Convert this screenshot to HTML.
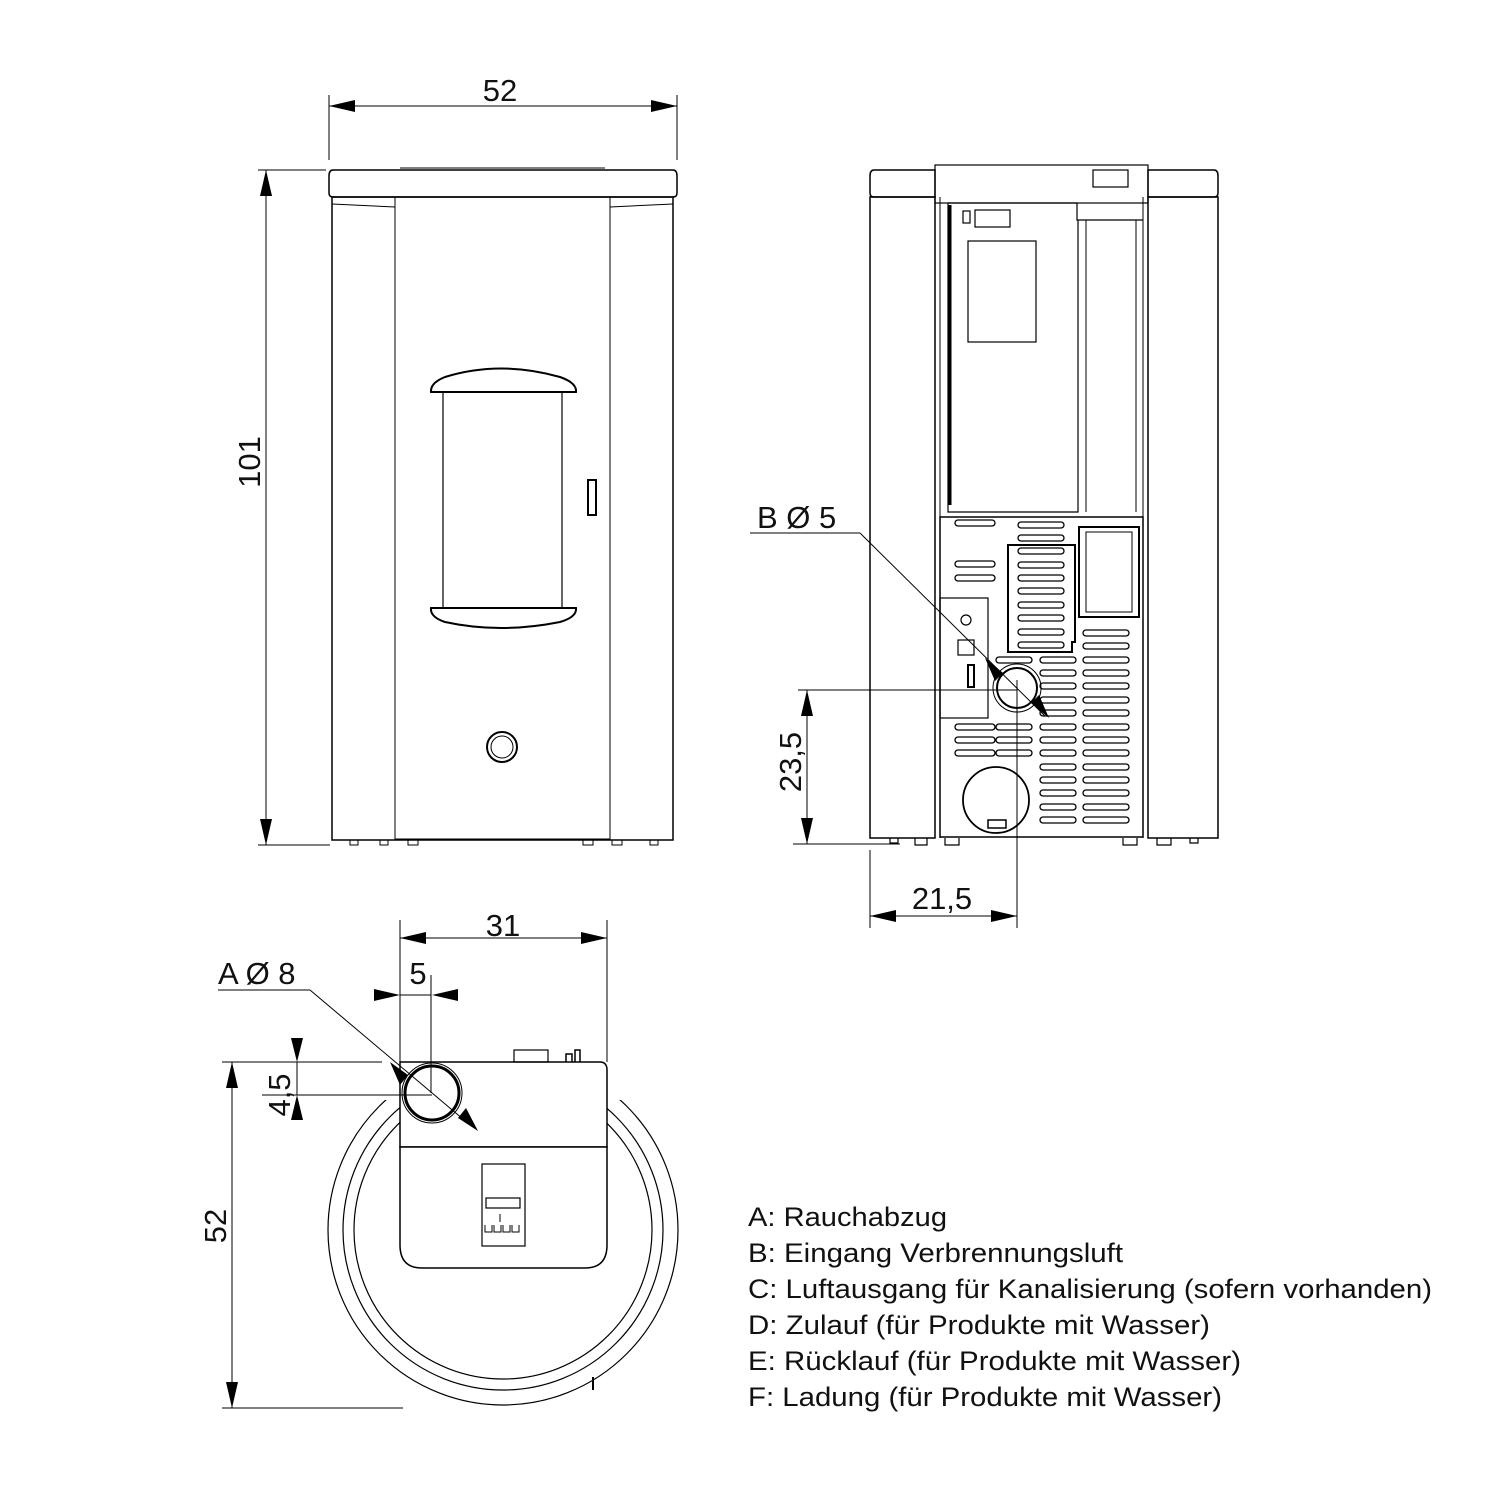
<!DOCTYPE html>
<html><head><meta charset="utf-8"><style>
html,body{margin:0;padding:0;background:#fff;}
svg{display:block}
text{font-family:"Liberation Sans",Arial,sans-serif;fill:#111}
</style></head><body>
<svg width="1500" height="1500" viewBox="0 0 1500 1500" xmlns="http://www.w3.org/2000/svg">
<defs>
<marker id="ae" markerWidth="26" markerHeight="12" refX="26" refY="6" orient="auto" markerUnits="userSpaceOnUse"><path d="M0,0 L26,6 L0,12 z" fill="#000"/></marker>
<marker id="as" markerWidth="26" markerHeight="12" refX="0" refY="6" orient="auto" markerUnits="userSpaceOnUse"><path d="M26,0 L0,6 L26,12 z" fill="#000"/></marker>
<clipPath id="cl"><rect x="300" y="1100" width="420" height="320"/></clipPath>
</defs>
<g fill="none" stroke="#000" stroke-width="1.5">
<path d="M333,170 H673 Q677,170 677,176 V193 Q677,197 673,197 H333 Q329,197 329,193 V176 Q329,170 333,170 z"/>
<line x1="400" y1="168" x2="605" y2="168" stroke-width="1"/>
<rect x="332" y="197" width="341" height="643"/>
<rect x="395" y="197" width="215" height="642" stroke-width="1"/>
<line x1="332" y1="204" x2="395" y2="207" stroke-width="1"/>
<line x1="610" y1="207" x2="673" y2="204" stroke-width="1"/>
<path d="M431,392 Q430,383 445,377 Q500,360 560,377 Q577,383 576,392 z" stroke-width="2"/>
<rect x="443" y="392" width="119" height="216" stroke-width="1.2"/>
<path d="M431,608 Q430,617 445,622 Q500,634 560,622 Q577,617 576,608 z" stroke-width="2"/>
<rect x="588" y="480" width="8" height="35" stroke-width="2"/>
<circle cx="502" cy="747" r="15" stroke-width="2"/>
<circle cx="502" cy="747" r="11" stroke-width="1"/>
<path d="M350,840v5h8v-5 M380,840v5h8v-5 M408,840v5h10v-5 M583,840v5h10v-5 M612,840v5h10v-5 M650,840v5h8v-5" stroke-width="1"/>
<line x1="329" y1="95" x2="329" y2="160" stroke-width="1"/>
<line x1="677" y1="95" x2="677" y2="160" stroke-width="1"/>
<line x1="329" y1="106" x2="677" y2="106" stroke-width="1" marker-start="url(#as)" marker-end="url(#ae)"/>
<line x1="258" y1="170" x2="326" y2="170" stroke-width="1"/>
<line x1="258" y1="845" x2="330" y2="845" stroke-width="1"/>
<line x1="266" y1="170" x2="266" y2="845" stroke-width="1" marker-start="url(#as)" marker-end="url(#ae)"/>

<path d="M874,170 H935 V197 H874 Q870,197 870,193 V176 Q870,170 874,170 z"/>
<path d="M1148,170 H1214 Q1218,170 1218,176 V193 Q1218,197 1214,197 H1148 z"/>
<rect x="935" y="165" width="213" height="38" stroke-width="1.2"/>
<rect x="1093" y="170" width="35" height="17" stroke-width="1.2"/>
<rect x="870" y="197" width="65" height="641"/>
<rect x="1148" y="197" width="70" height="641"/>
<line x1="940" y1="197" x2="940" y2="838" stroke-width="1"/>
<line x1="1143" y1="197" x2="1143" y2="838" stroke-width="1"/>
<path d="M948,203 H1077 V220 H1143" stroke-width="1.2"/>
<path d="M948,203 V512 H1078 V220" stroke-width="1.2"/>
<line x1="950" y1="205" x2="950" y2="505" stroke-width="3"/>
<line x1="1086" y1="220" x2="1086" y2="512" stroke-width="1"/>
<line x1="1136" y1="220" x2="1136" y2="512" stroke-width="1"/>
<rect x="968" y="241" width="68" height="101" stroke-width="1.2"/>
<rect x="975" y="210" width="35" height="17" stroke-width="1.2"/>
<rect x="963" y="211" width="7" height="12" stroke-width="1.2"/>
<rect x="940" y="517" width="203" height="320"/>
<rect x="1079" y="527" width="60" height="90" stroke-width="2"/>
<rect x="1086" y="532" width="46" height="80" stroke-width="1"/>
<path d="M1008,545 H1075 V642 H1072 V652 H1008 z" stroke-width="2"/>
<rect x="940" y="598" width="48" height="120" stroke-width="1.2"/>
<rect x="958" y="640" width="16" height="15" stroke-width="1.2"/>
<rect x="968" y="665" width="6" height="22" stroke-width="2"/>
<circle cx="966" cy="620" r="5" stroke-width="1.2"/>
<g stroke-width="1.3">
<rect x="955" y="520" width="40" height="6" rx="3"/>
<rect x="955" y="561" width="40" height="6" rx="3"/>
<rect x="955" y="575" width="40" height="6" rx="3"/>
<rect x="955" y="724" width="40" height="6" rx="3"/>
<rect x="955" y="737" width="40" height="6" rx="3"/>
<rect x="955" y="750" width="40" height="6" rx="3"/>
<rect x="996" y="724" width="36" height="6" rx="3"/>
<rect x="996" y="737" width="36" height="6" rx="3"/>
<rect x="996" y="750" width="36" height="6" rx="3"/>
<rect x="996" y="657" width="36" height="6" rx="3"/>
<rect x="1018" y="522" width="46" height="6" rx="3"/>
<rect x="1018" y="535" width="46" height="6" rx="3"/>
<rect x="1018" y="548" width="46" height="6" rx="3"/>
<rect x="1018" y="562" width="46" height="6" rx="3"/>
<rect x="1018" y="575" width="46" height="6" rx="3"/>
<rect x="1018" y="588" width="46" height="6" rx="3"/>
<rect x="1018" y="602" width="46" height="6" rx="3"/>
<rect x="1018" y="615" width="46" height="6" rx="3"/>
<rect x="1018" y="629" width="46" height="6" rx="3"/>
<rect x="1018" y="642" width="46" height="6" rx="3"/>
<rect x="1040" y="657" width="36" height="6" rx="3"/>
<rect x="1040" y="670" width="36" height="6" rx="3"/>
<rect x="1040" y="683" width="36" height="6" rx="3"/>
<rect x="1040" y="697" width="36" height="6" rx="3"/>
<rect x="1040" y="710" width="36" height="6" rx="3"/>
<rect x="1040" y="724" width="36" height="6" rx="3"/>
<rect x="1040" y="737" width="36" height="6" rx="3"/>
<rect x="1040" y="750" width="36" height="6" rx="3"/>
<rect x="1040" y="764" width="36" height="6" rx="3"/>
<rect x="1040" y="777" width="36" height="6" rx="3"/>
<rect x="1040" y="790" width="36" height="6" rx="3"/>
<rect x="1040" y="804" width="36" height="6" rx="3"/>
<rect x="1040" y="817" width="36" height="6" rx="3"/>
<rect x="1083" y="630" width="46" height="6" rx="3"/>
<rect x="1083" y="643" width="46" height="6" rx="3"/>
<rect x="1083" y="657" width="46" height="6" rx="3"/>
<rect x="1083" y="670" width="46" height="6" rx="3"/>
<rect x="1083" y="683" width="46" height="6" rx="3"/>
<rect x="1083" y="697" width="46" height="6" rx="3"/>
<rect x="1083" y="710" width="46" height="6" rx="3"/>
<rect x="1083" y="724" width="46" height="6" rx="3"/>
<rect x="1083" y="737" width="46" height="6" rx="3"/>
<rect x="1083" y="750" width="46" height="6" rx="3"/>
<rect x="1083" y="764" width="46" height="6" rx="3"/>
<rect x="1083" y="777" width="46" height="6" rx="3"/>
<rect x="1083" y="790" width="46" height="6" rx="3"/>
<rect x="1083" y="804" width="46" height="6" rx="3"/>
<rect x="1083" y="817" width="46" height="6" rx="3"/>
</g>
<circle cx="1017" cy="688" r="20" stroke-width="2"/>
<circle cx="1017" cy="688" r="24" stroke-width="1"/>
<circle cx="996" cy="800" r="33" stroke-width="1.8"/>
<rect x="988" y="820" width="18" height="8" stroke-width="1.5"/>
<path d="M890,838v5h8v-5 M915,838v7h12v-7 M945,838v7h14v-7 M1123,838v7h14v-7 M1157,838v7h14v-7 M1190,838v5h8v-5" stroke-width="1.2"/>
<line x1="750" y1="533" x2="860" y2="533" stroke-width="1"/>
<line x1="860" y1="533" x2="1045" y2="716" stroke-width="1"/>
<path d="M985,658 L1003,673 L995,681 z M1049,718 L1031,703 L1039,695 z" fill="#000" stroke="none"/>
<line x1="798" y1="690" x2="1017" y2="690" stroke-width="1"/>
<line x1="793" y1="844" x2="900" y2="844" stroke-width="1"/>
<line x1="807" y1="690" x2="807" y2="844" stroke-width="1" marker-start="url(#as)" marker-end="url(#ae)"/>
<line x1="870" y1="850" x2="870" y2="928" stroke-width="1"/>
<line x1="1017" y1="680" x2="1017" y2="928" stroke-width="1"/>
<line x1="870" y1="916" x2="1017" y2="916" stroke-width="1" marker-start="url(#as)" marker-end="url(#ae)"/>

<g clip-path="url(#cl)">
<circle cx="503" cy="1230" r="175" stroke-width="1.2"/>
<circle cx="503" cy="1230" r="160" stroke-width="1.2"/>
<circle cx="503" cy="1230" r="149" stroke-width="1.2"/>
</g>
<path d="M400,1062 H600 Q607,1062 607,1070 V1147 H400 z" fill="#fff" stroke-width="1.5"/>
<path d="M400,1147 H607 V1245 Q607,1268 585,1268 H422 Q400,1268 400,1245 z" fill="#fff" stroke-width="1.5"/>
<rect x="482" y="1164" width="43" height="82" stroke-width="1.2"/>
<rect x="486" y="1198" width="34" height="10" stroke-width="1.2"/>
<path d="M485,1225v7h7v-7 M494,1225v7h7v-7 M503,1225v7h7v-7 M512,1225v7h7v-7 M500,1214v8" stroke-width="1"/>
<rect x="514" y="1050" width="34" height="12" stroke-width="1.2"/>
<path d="M566,1062v-8h6v8 M575,1062v-12h5v12" stroke-width="1.5"/>
<circle cx="432" cy="1093" r="27" stroke-width="3" fill="#fff"/>
<circle cx="432" cy="1093" r="30" stroke-width="1"/>
<line x1="593" y1="1377" x2="593" y2="1390" stroke-width="2"/>
<line x1="400" y1="920" x2="400" y2="1062" stroke-width="1"/>
<line x1="607" y1="920" x2="607" y2="1062" stroke-width="1"/>
<line x1="400" y1="938" x2="607" y2="938" stroke-width="1" marker-start="url(#as)" marker-end="url(#ae)"/>
<line x1="431" y1="975" x2="431" y2="1093" stroke-width="1"/>
<line x1="400" y1="995" x2="431" y2="995" stroke-width="1"/>
<path d="M374,989 L400,995 L374,1001 z M458,989 L432,995 L458,1001 z" fill="#000" stroke="none"/>
<line x1="218" y1="990" x2="310" y2="990" stroke-width="1"/>
<line x1="310" y1="990" x2="470" y2="1125" stroke-width="1"/>
<path d="M390,1062 L408,1075 L400,1085 z M478,1131 L458,1118 L466,1108 z" fill="#000" stroke="none"/>
<line x1="222" y1="1062" x2="382" y2="1062" stroke-width="1"/>
<line x1="262" y1="1095" x2="432" y2="1095" stroke-width="1"/>
<line x1="297" y1="1062" x2="297" y2="1095" stroke-width="1"/>
<path d="M291,1038 L297,1062 L303,1038 z M291,1120 L297,1095 L303,1120 z" fill="#000" stroke="none"/>
<line x1="222" y1="1408" x2="403" y2="1408" stroke-width="1"/>
<line x1="232" y1="1062" x2="232" y2="1408" stroke-width="1" marker-start="url(#as)" marker-end="url(#ae)"/>
</g>
<g font-size="31">
<text x="500" y="101" text-anchor="middle">52</text>
<text transform="translate(260,462) rotate(-90)" text-anchor="middle">101</text>
<text x="757" y="528">B Ø 5</text>
<text transform="translate(801,762) rotate(-90)" text-anchor="middle">23,5</text>
<text x="942" y="909" text-anchor="middle">21,5</text>
<text x="503" y="936" text-anchor="middle">31</text>
<text x="418" y="984" text-anchor="middle">5</text>
<text x="218" y="984">A Ø 8</text>
<text transform="translate(290,1095) rotate(-90)" text-anchor="middle">4,5</text>
<text transform="translate(226,1226) rotate(-90)" text-anchor="middle">52</text>
</g>
<g font-size="27">
<text x="748" y="1226" textLength="199" lengthAdjust="spacingAndGlyphs">A: Rauchabzug</text>
<text x="748" y="1262" textLength="375" lengthAdjust="spacingAndGlyphs">B: Eingang Verbrennungsluft</text>
<text x="748" y="1298" textLength="684" lengthAdjust="spacingAndGlyphs">C: Luftausgang für Kanalisierung (sofern vorhanden)</text>
<text x="748" y="1334" textLength="462" lengthAdjust="spacingAndGlyphs">D: Zulauf (für Produkte mit Wasser)</text>
<text x="748" y="1370" textLength="493" lengthAdjust="spacingAndGlyphs">E: Rücklauf (für Produkte mit Wasser)</text>
<text x="748" y="1406" textLength="474" lengthAdjust="spacingAndGlyphs">F: Ladung (für Produkte mit Wasser)</text>
</g>
</svg>
</body></html>
